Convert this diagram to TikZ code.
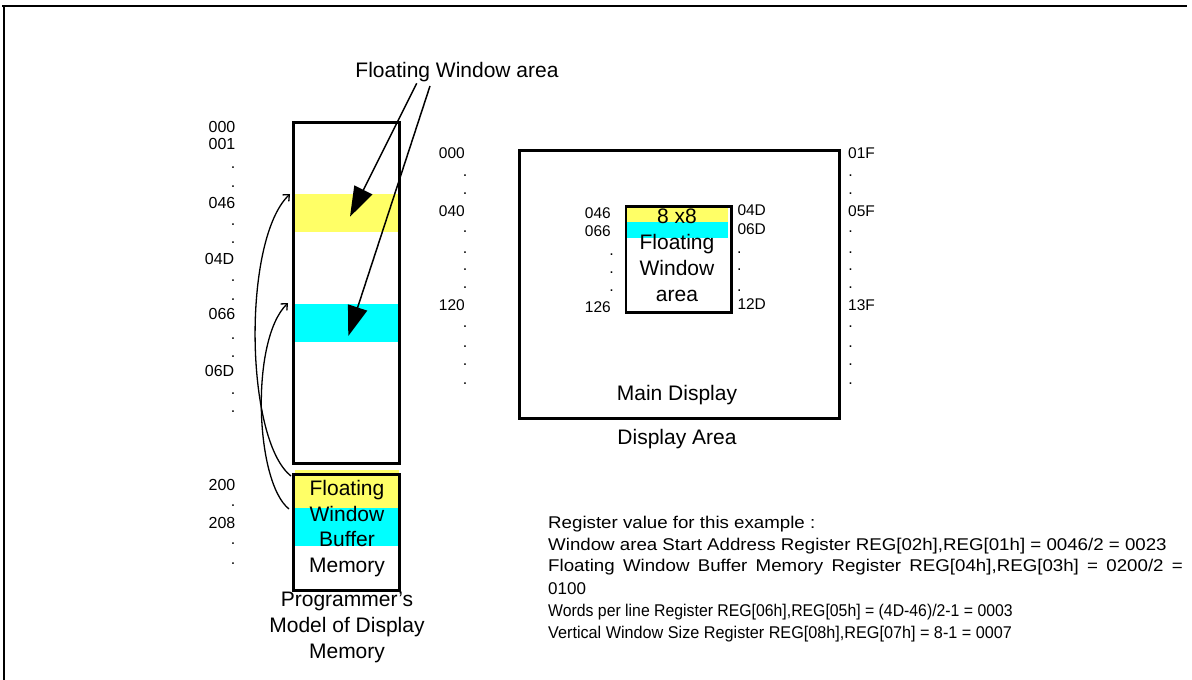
\documentclass[tikz,border=0pt]{standalone}
\usepackage{fontspec}
\usepackage{graphicx}
\setmainfont{Liberation Sans}
\usetikzlibrary{arrows.meta}
\definecolor{fwyellow}{RGB}{255,255,102}
\definecolor{fwcyan}{RGB}{0,255,255}
\begin{document}
\begin{tikzpicture}[x=1pt,y=-1pt,
  lbl/.style={font=\fontsize{16}{16}\selectfont, inner sep=0pt},
  lblr/.style={lbl, anchor=east},
  lbll/.style={lbl, anchor=west},
  dlbl/.style={font=\fontsize{15.5}{16}\selectfont, inner sep=0pt},
  dlblr/.style={dlbl, anchor=east},
  dlbll/.style={dlbl, anchor=west},
  dotlbl/.style={lbl, anchor=base},
  big/.style={font=\fontsize{21}{26}\selectfont, inner sep=0pt, align=center},
  regline/.style={font=\fontsize{17}{22}\selectfont, inner sep=0pt, anchor=base west},
  boxline/.style={line width=2.8pt},
  bigarrow/.style={line width=1.5pt, -{Triangle[length=30pt,width=20pt]}},
  curvearrow/.style={line width=1.3pt, -{Straight Barb[length=5pt,width=9pt,line width=1.3pt]}}
]
\useasboundingbox (0,0) rectangle (1192,680);

% frame
\draw[line width=2.2pt] (2,6) -- (1187,6);
\draw[line width=1.1pt] (4,6) -- (4,680);

% ---- programmer's model column ----
\fill[fwyellow] (295,194) rectangle (398,232);
\fill[fwcyan] (295,304) rectangle (398,342);
\node[draw, boxline, anchor=north west, minimum width=106pt, minimum height=341pt, inner sep=0pt] (mem) at (292,121) {};

\fill[fwyellow] (295,470) rectangle (399,508);
\fill[fwcyan] (295,508) rectangle (399,546);
\node[draw, boxline, anchor=north west, minimum width=106pt, minimum height=116pt, inner sep=0pt] (fwbuf) at (292,473) {};
\node[big, font=\fontsize{21}{25.7}\selectfont] (fwbuftext) at (347,528.5) {Floating\\Window\\Buffer\\Memory};
\node[big] (memcap) at (347,627.3) {Programmer's\\Model of Display\\Memory};

% left address labels
\node[lblr] (a000) at (235.5,126.7) {000};
\node[lblr] (a001) at (235.5,144) {001};
\node[lblr] (a046) at (235.5,202.7) {046};
\node[lblr] (a04D) at (234.5,259) {04D};
\node[lblr] (a066) at (235.5,314) {066};
\node[lblr] (a06D) at (234.5,371) {06D};
\node[lblr] (a200) at (235.5,485) {200};
\node[lblr] (a208) at (235.5,522.7) {208};
\foreach \yy [count=\i] in {168,187,225,243,281,300,339,357,394,412,506,544,564}
  \node[dotlbl] (ld\i) at (233,\yy+0.8) {.};

% top label and big arrows
\node[big] (fwa) at (457,72) {Floating Window area};
\coordinate (fwa1) at (416.7,83.3);
\coordinate (fwa2) at (430,86);
\coordinate (tipY) at (350,216.7);
\coordinate (tipC) at (348.3,336);
\draw[bigarrow] (fwa1) -- (tipY);
\draw[bigarrow] (fwa2) -- (tipC);

% curved arrows from buffer to bands
\coordinate (bufA) at (291,476);
\coordinate (bufB) at (289,509);
\coordinate (memA) at (290,194);
\coordinate (memB) at (288,303);
\draw[curvearrow] (bufA) .. controls (245,440) and (242,240) .. (memA);
\draw[curvearrow] (bufB) .. controls (255,482) and (250,340) .. (memB);

% ---- display area ----
\node[draw, boxline, anchor=north west, minimum width=320pt, minimum height=268pt, inner sep=0pt] (disp) at (518,149) {};
\fill[fwyellow] (625,205) rectangle (728,222);
\fill[fwcyan] (625,222) rectangle (728,238);
\node[draw, boxline, anchor=north west, minimum width=105.5pt, minimum height=106pt, inner sep=0pt] (win) at (624.5,205) {};
\node[big] (winsize) at (677,216.5) {8 x8};
\node[big] (wintext) at (677,268) {Floating\\Window\\area};
\node[big] (maindisp) at (677,395.5) {Main Display};
\node[big] (disparea) at (677,439) {Display Area};

% outer left labels
\node[dlblr] (o000) at (465,153.3) {000};
\node[dlblr] (o040) at (465,210.7) {040};
\node[dlblr] (o120) at (465,305) {120};
\foreach \yy [count=\i] in {176,193.3,231.7,252.7,270,287.7,326.7,346.7,365,384}
  \node[dotlbl] (od\i) at (465,\yy+0.8) {.};
% outer right labels
\node[dlbll] (o01F) at (848,153.3) {01F};
\node[dlbll] (o05F) at (848,210.7) {05F};
\node[dlbll] (o13F) at (848,305) {13F};
\foreach \yy [count=\i] in {176,193.3,232,252.7,270,287.7,326.7,346.7,365,384}
  \node[dotlbl] (rd\i) at (850.7,\yy+0.8) {.};
% inner left labels
\node[dlblr] (i046) at (611,212.7) {046};
\node[dlblr] (i066) at (611,230.7) {066};
\node[dlblr] (i126) at (611,306.7) {126};
\foreach \yy [count=\i] in {255,272.7,290.7}
  \node[dotlbl] (id\i) at (611.7,\yy+0.8) {.};
% inner right labels
\node[dlbll] (i04D) at (737.3,210) {04D};
\node[dlbll] (i06D) at (737.3,228.7) {06D};
\node[dlbll] (i12D) at (737.3,304.3) {12D};
\foreach \yy [count=\i] in {252.7,270,290.7}
  \node[dotlbl] (jd\i) at (739.3,\yy+0.8) {.};

% register text
\node[regline] (reg1) at (548,528.5) {\scalebox{1.1}[1]{Register value for this example :}};
\node[regline] (reg2) at (548,550.7) {\scalebox{1.1}[1]{Window area Start Address Register REG[02h],REG[01h] = 0046/2 = 0023}};
\node[regline] (reg3) at (548,571.8) {\scalebox{1.1}[1]{\makebox[577pt][s]{Floating Window Buffer Memory Register REG[04h],REG[03h] = 0200/2 =}}};
\node[regline] (reg4) at (548,594.6) {0100};
\node[regline] (reg5) at (548,616.4) {\scalebox{0.93}[1]{Words per line Register REG[06h],REG[05h] = (4D-46)/2-1 = 0003}};
\node[regline] (reg6) at (548,638.4) {\scalebox{0.953}[1]{Vertical Window Size Register REG[08h],REG[07h] = 8-1 = 0007}};
\end{tikzpicture}
\end{document}
